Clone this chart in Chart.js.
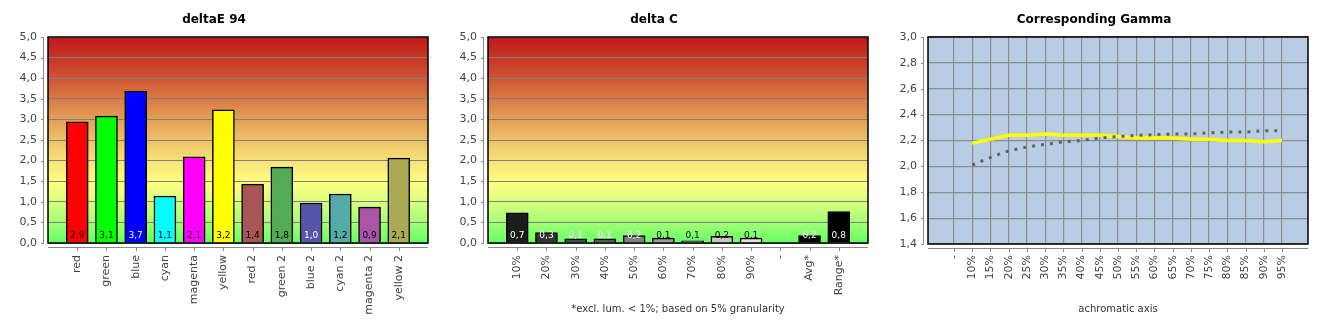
<!DOCTYPE html>
<html>
<head>
<meta charset="utf-8">
<script src="https://cdn.jsdelivr.net/npm/chart.js@4/dist/chart.umd.min.js"></script>
<style>
body { margin: 0; background: #fff; width: 1330px; height: 330px; overflow: hidden; position: relative; }
.box { position: absolute; top: 0; width: 450px; height: 330px; }
</style>
</head>
<body>
<div class="box" style="left:0"><canvas id="deltaE"></canvas></div>
<div class="box" style="left:440px"><canvas id="deltaC"></canvas></div>
<div class="box" style="left:880px"><canvas id="gamma"></canvas></div>
<script>
// deltaE 94
const deltaELabels = ['red', 'green', 'blue', 'cyan', 'magenta', 'yellow', 'red 2', 'green 2', 'blue 2', 'cyan 2', 'magenta 2', 'yellow 2'];
const deltaEValues = [2.94, 3.08, 3.69, 1.14, 2.09, 3.23, 1.43, 1.84, 0.97, 1.19, 0.87, 2.06];
const deltaEColors = ['#ff0000', '#00ff00', '#0000ff', '#00ffff', '#ff00ff', '#ffff00', '#a85555', '#55aa55', '#5555aa', '#55aaaa', '#aa55aa', '#aaaa55'];
const deltaETextColors = ['#000', '#000', '#fff', '#000', '#000', '#000', '#000', '#000', '#fff', '#000', '#000', '#000'];

// delta C
const deltaCLabels = ['10%', '20%', '30%', '40%', '50%', '60%', '70%', '80%', '90%', '-', 'Avg*', 'Range*'];
const deltaCValues = [0.73, 0.25, 0.1, 0.1, 0.18, 0.12, 0.05, 0.16, 0.12, null, 0.18, 0.76];
const deltaCColors = ['#1c1c1c', '#333333', '#484848', '#5a5a5a', '#808080', '#999999', '#ababab', '#c8c8c8', '#e0e0e0', '#000', '#000000', '#000000'];
const deltaCTextColors = ['#fff', '#fff', '#fff', '#fff', '#fff', '#000', '#000', '#000', '#000', '#000', '#fff', '#fff'];

// Corresponding Gamma
const gammaLabels = ['-', '10%', '15%', '20%', '25%', '30%', '35%', '40%', '45%', '50%', '55%', '60%', '65%', '70%', '75%', '80%', '85%', '90%', '95%'];
const gammaMeasured = [null, 2.18, 2.21, 2.24, 2.24, 2.25, 2.24, 2.24, 2.24, 2.23, 2.22, 2.22, 2.22, 2.21, 2.21, 2.20, 2.20, 2.19, 2.20];
const gammaTarget = [null, 2.01, 2.07, 2.12, 2.15, 2.17, 2.19, 2.20, 2.22, 2.23, 2.24, 2.245, 2.25, 2.25, 2.26, 2.265, 2.265, 2.275, 2.275];

const yTicks = [0, 0.5, 1, 1.5, 2, 2.5, 3, 3.5, 4, 4.5, 5];
const gammaYTicks = [1.4, 1.6, 1.8, 2.0, 2.2, 2.4, 2.6, 2.8, 3.0];

Chart.defaults.font.family = 'DejaVu Sans';
Chart.defaults.font.size = 11;
Chart.defaults.color = '#444';

const comma = v => Number(v).toFixed(1).replace('.', ',');

function plotBackground(chart, fill) {
    const a = chart.chartArea, ctx = chart.ctx;
    ctx.save();
    if (fill === 'heat') {
        const g = ctx.createLinearGradient(0, a.top, 0, a.bottom);
        g.addColorStop(0, '#bf1818');
        g.addColorStop(0.2, '#cf5434');
        g.addColorStop(0.4, '#e39f56');
        g.addColorStop(0.6, '#f7e27a');
        g.addColorStop(0.71, '#ffff80');
        g.addColorStop(0.8, '#d8ff7e');
        g.addColorStop(0.9, '#a4ff74');
        g.addColorStop(1, '#66ff66');
        ctx.fillStyle = g;
    } else {
        ctx.fillStyle = fill;
    }
    ctx.fillRect(a.left, a.top, a.right - a.left, a.bottom - a.top);
    ctx.restore();
}

function frameAndAxes(chart) {
    const a = chart.chartArea, ctx = chart.ctx;
    const xs = chart.scales.x, ys = chart.scales.y;
    ctx.save();
    ctx.strokeStyle = '#000';
    ctx.lineWidth = 1.5;
    ctx.strokeRect(a.left, a.top, a.right - a.left, a.bottom - a.top);
    ctx.strokeStyle = '#8a8a8a';
    ctx.lineWidth = 1;
    ctx.beginPath();
    // y axis, offset left of the plot
    ctx.moveTo(a.left - 4.5, a.top);
    ctx.lineTo(a.left - 4.5, a.bottom);
    ys.ticks.forEach(t => {
        const y = Math.round(ys.getPixelForValue(t.value)) + 0.5;
        ctx.moveTo(a.left - 7, y);
        ctx.lineTo(a.left - 4.5, y);
    });
    // x axis, offset below the plot
    ctx.moveTo(a.left, a.bottom + 4.5);
    ctx.lineTo(a.right, a.bottom + 4.5);
    xs.ticks.forEach(t => {
        const x = Math.round(xs.getPixelForValue(t.value)) + 0.5;
        ctx.moveTo(x, a.bottom + 4.5);
        ctx.lineTo(x, a.bottom + 8);
    });
    ctx.stroke();
    ctx.restore();
}

function barChart(id, title, labels, values, colors, textColors, footnote) {
    return new Chart(document.getElementById(id), {
        type: 'bar',
        data: {
            datasets: [{
                data: values.map((v, i) => ({ x: i, y: v })),
                backgroundColor: colors,
                borderColor: '#000',
                borderWidth: 1.5,
                barThickness: 22
            }]
        },
        options: {
            responsive: true,
            maintainAspectRatio: false,
            animation: false,
            layout: { padding: { top: 0, right: 22, bottom: 0, left: 0 } },
            plugins: {
                legend: { display: false },
                tooltip: { enabled: false },
                title: {
                    display: true,
                    text: title,
                    color: '#000',
                    font: { size: 12, weight: 'bold' },
                    padding: { top: 13, bottom: 9.6 }
                }
            },
            scales: {
                x: {
                    type: 'linear',
                    offset: false,
                    min: -1,
                    max: labels.length,
                    grid: { display: false, drawTicks: false },
                    border: { display: false },
                    ticks: {
                        stepSize: 1,
                        autoSkip: false,
                        minRotation: 90,
                        maxRotation: 90,
                        padding: 12,
                        color: '#444',
                        callback: v => labels[v] ?? ''
                    },
                    title: {
                        display: !!footnote,
                        text: footnote || '',
                        color: '#333',
                        font: { size: 10 },
                        padding: { top: 0, bottom: 15 }
                    },
                    afterBuildTicks: s => { s.ticks = labels.map((l, i) => ({ value: i })); },
                    afterFit: s => { s.height = 87; }
                },
                y: {
                    min: 0,
                    max: 5,
                    afterBuildTicks: s => { s.ticks = yTicks.map(v => ({ value: v })); },
                    grid: { color: '#808080', lineWidth: 1, drawTicks: false },
                    border: { display: false },
                    ticks: { padding: 11, color: '#444', callback: v => comma(v) },
                    afterFit: s => { s.width = 48; }
                }
            }
        },
        plugins: [{
            id: 'decor',
            beforeDraw: c => plotBackground(c, 'heat'),
            afterDatasetsDraw(c) {
                const ctx = c.ctx, ys = c.scales.y;
                const base = ys.getPixelForValue(0);
                ctx.save();
                ctx.font = '9px "DejaVu Sans"';
                ctx.textAlign = 'center';
                ctx.textBaseline = 'middle';
                c.getDatasetMeta(0).data.forEach((bar, i) => {
                    if (values[i] == null) return;
                    ctx.fillStyle = textColors[i];
                    ctx.fillText(comma(values[i]), bar.x, base - 7.5);
                });
                ctx.restore();
            },
            afterDraw: frameAndAxes
        }]
    });
}

barChart('deltaE', 'deltaE 94', deltaELabels, deltaEValues, deltaEColors, deltaETextColors, null);
barChart('deltaC', 'delta C', deltaCLabels, deltaCValues, deltaCColors, deltaCTextColors, '*excl. lum. < 1%; based on 5% granularity');

new Chart(document.getElementById('gamma'), {
    type: 'line',
    data: {
        datasets: [{
            data: gammaTarget.map((v, i) => ({ x: i, y: v })),
            borderColor: '#626262',
            borderWidth: 3,
            borderDash: [3, 6],
            pointRadius: 0,
            tension: 0
        }, {
            data: gammaMeasured.map((v, i) => ({ x: i, y: v })),
            borderColor: '#ffff00',
            borderWidth: 3.5,
            pointRadius: 0,
            tension: 0
        }]
    },
    options: {
        responsive: true,
        maintainAspectRatio: false,
        animation: false,
        layout: { padding: { top: 0, right: 22, bottom: 0, left: 0 } },
        plugins: {
            legend: { display: false },
            tooltip: { enabled: false },
            title: {
                display: true,
                text: 'Corresponding Gamma',
                color: '#000',
                font: { size: 12, weight: 'bold' },
                padding: { top: 13, bottom: 9.6 }
            }
        },
        scales: {
            x: {
                type: 'linear',
                min: -1.43,
                max: gammaLabels.length - 1 + 1.43,
                grid: { color: '#8c8c8c', lineWidth: 1.2, drawTicks: false },
                border: { display: false },
                ticks: {
                    stepSize: 1,
                    autoSkip: false,
                    minRotation: 90,
                    maxRotation: 90,
                    padding: 11,
                    color: '#444',
                    callback: v => gammaLabels[v] ?? ''
                },
                title: {
                    display: true,
                    text: 'achromatic axis',
                    color: '#333',
                    font: { size: 10 },
                    padding: { top: 0, bottom: 15 }
                },
                afterBuildTicks: s => { s.ticks = gammaLabels.map((l, i) => ({ value: i })); },
                afterFit: s => { s.height = 86; }
            },
            y: {
                min: 1.4,
                max: 3.0,
                afterBuildTicks: s => { s.ticks = gammaYTicks.map(v => ({ value: v })); },
                grid: { color: '#8c8c8c', lineWidth: 1.2, drawTicks: false },
                border: { display: false },
                ticks: { padding: 11, color: '#444', callback: v => comma(v) },
                afterFit: s => { s.width = 48; }
            }
        }
    },
    plugins: [{
        id: 'decor',
        beforeDraw: c => plotBackground(c, '#b8cce4'),
        afterDraw: frameAndAxes
    }]
});
</script>
</body>
</html>
